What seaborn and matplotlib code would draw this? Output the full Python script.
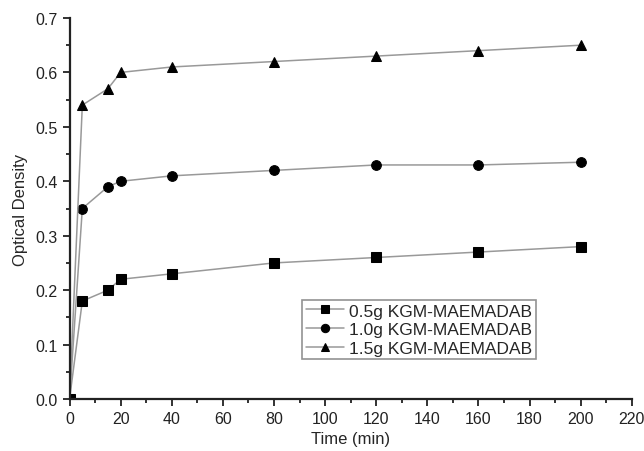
import pandas as pd
import numpy as np
import matplotlib.pyplot as plt
import seaborn as sns
from matplotlib.ticker import MultipleLocator

time = [0, 5, 15, 20, 40, 80, 120, 160, 200]
od_05 = [0, 0.18, 0.20, 0.22, 0.23, 0.25, 0.26, 0.27, 0.28]
od_10 = [0, 0.35, 0.39, 0.40, 0.41, 0.42, 0.43, 0.43, 0.435]
od_15 = [0, 0.54, 0.57, 0.60, 0.61, 0.62, 0.63, 0.64, 0.65]
labels = ['0.5g KGM-MAEMADAB', '1.0g KGM-MAEMADAB', '1.5g KGM-MAEMADAB']

df = pd.concat([
    pd.DataFrame({'Time': time, 'OD': v, 'Sample': lab})
    for v, lab in zip([od_05, od_10, od_15], labels)
])

sns.set_style('ticks')
plt.rcParams['font.family'] = ['Liberation Sans', 'DejaVu Sans']

fig = plt.figure(figsize=(6.44, 4.52), dpi=100)
ax = fig.add_axes([0.108, 0.115, 0.873, 0.843])
sns.lineplot(data=df, x='Time', y='OD', hue='Sample', style='Sample',
             palette=['#999999'] * 3, markers=['s', 'o', '^'], dashes=False,
             markersize=7, markeredgecolor='black', linewidth=1.1, ax=ax)
for line in ax.get_lines():
    line.set_markerfacecolor('black')
    line.set_markeredgecolor('black')

ax.set_xlim(0, 220)
ax.set_ylim(0, 0.7)
ax.xaxis.set_major_locator(MultipleLocator(20))
ax.xaxis.set_minor_locator(MultipleLocator(10))
ax.yaxis.set_major_locator(MultipleLocator(0.1))
ax.yaxis.set_minor_locator(MultipleLocator(0.05))
ax.yaxis.set_major_formatter(plt.FormatStrFormatter('%.1f'))
ax.tick_params(which='major', length=5, width=1.3, labelsize=11.5, colors='#222222')
ax.tick_params(which='minor', length=3, width=1.3, colors='#222222')
sns.despine(ax=ax)
for s in ['left', 'bottom']:
    ax.spines[s].set_linewidth(1.6)
    ax.spines[s].set_color('#222222')
ax.set_xlabel('Time (min)', fontsize=12)
ax.set_ylabel('Optical Density', fontsize=12, labelpad=5)

leg = ax.legend(loc='upper left', bbox_to_anchor=(0.414, 0.26), fontsize=12.5,
                frameon=True, fancybox=False, edgecolor='#777777',
                handlelength=2.2, borderpad=0.2, labelspacing=0.2,
                handletextpad=0.3, borderaxespad=0)
leg.get_frame().set_linewidth(1.2)
for h in leg.legend_handles:
    h.set_markerfacecolor('black')
    h.set_markeredgecolor('black')
    h.set_markersize(6)

fig.savefig('out.png', dpi=100)
